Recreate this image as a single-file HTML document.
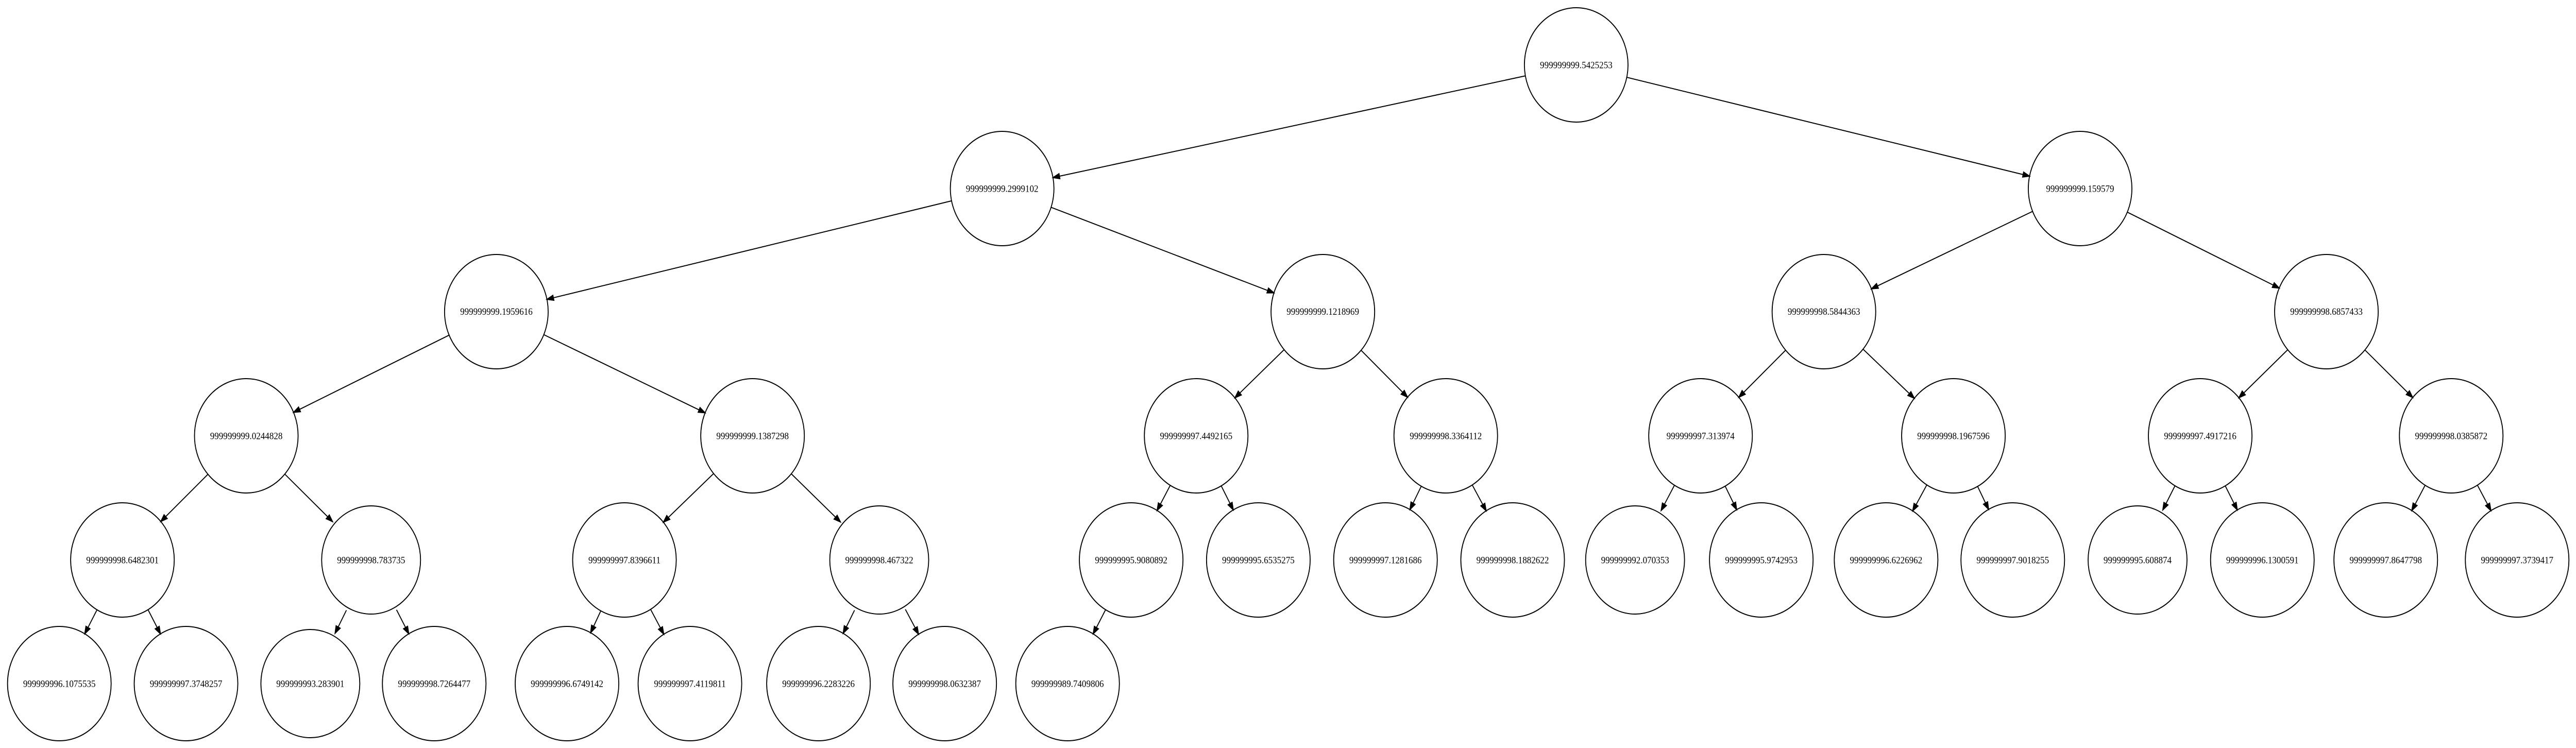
<!DOCTYPE html>
<html><head><meta charset="utf-8"><style>
html,body{margin:0;padding:0;background:#fff;overflow:hidden;width:100%;height:100%;}
svg{display:block;position:fixed;left:0;top:0;width:100vw;height:100vh;}
text{font-family:"Liberation Serif",serif;font-size:18.67px;text-anchor:middle;dominant-baseline:central;fill:#000;}
ellipse{fill:none;stroke:#000;stroke-width:2;}
</style></head><body>
<svg id="s" viewBox="0 0 5470 1452" preserveAspectRatio="none" xmlns="http://www.w3.org/2000/svg">
<g id="edges"></g>
<g id="nodes">
<ellipse cx="3347" cy="126" rx="110" ry="111"/><text x="3347" y="126">999999999.5425253</text>
<ellipse cx="2128" cy="366" rx="110" ry="111"/><text x="2128" y="366">999999999.2999102</text>
<ellipse cx="4417" cy="366" rx="110" ry="111"/><text x="4417" y="366">999999999.159579</text>
<ellipse cx="1054" cy="605" rx="110" ry="111"/><text x="1054" y="605">999999999.1959616</text>
<ellipse cx="2809" cy="605" rx="110" ry="111"/><text x="2809" y="605">999999999.1218969</text>
<ellipse cx="3873" cy="605" rx="110" ry="111"/><text x="3873" y="605">999999998.5844363</text>
<ellipse cx="4940" cy="605" rx="110" ry="111"/><text x="4940" y="605">999999998.6857433</text>
<ellipse cx="523" cy="846" rx="110" ry="111"/><text x="523" y="846">999999999.0244828</text>
<ellipse cx="1598" cy="846" rx="110" ry="111"/><text x="1598" y="846">999999999.1387298</text>
<ellipse cx="2540" cy="846" rx="110" ry="111"/><text x="2540" y="846">999999997.4492165</text>
<ellipse cx="3070" cy="846" rx="110" ry="111"/><text x="3070" y="846">999999998.3364112</text>
<ellipse cx="3611" cy="846" rx="110" ry="111"/><text x="3611" y="846">999999997.313974</text>
<ellipse cx="4148" cy="846" rx="110" ry="111"/><text x="4148" y="846">999999998.1967596</text>
<ellipse cx="4672" cy="846" rx="110" ry="111"/><text x="4672" y="846">999999997.4917216</text>
<ellipse cx="5205" cy="846" rx="110" ry="111"/><text x="5205" y="846">999999998.0385872</text>
<ellipse cx="260" cy="1087" rx="110" ry="111"/><text x="260" y="1087">999999998.6482301</text>
<ellipse cx="788" cy="1087" rx="105" ry="105"/><text x="788" y="1087">999999998.783735</text>
<ellipse cx="1326" cy="1087" rx="110" ry="111"/><text x="1326" y="1087">999999997.8396611</text>
<ellipse cx="1867" cy="1087" rx="105" ry="105"/><text x="1867" y="1087">999999998.467322</text>
<ellipse cx="2402" cy="1087" rx="110" ry="111"/><text x="2402" y="1087">999999995.9080892</text>
<ellipse cx="2672" cy="1087" rx="110" ry="111"/><text x="2672" y="1087">999999995.6535275</text>
<ellipse cx="2942" cy="1087" rx="110" ry="111"/><text x="2942" y="1087">999999997.1281686</text>
<ellipse cx="3212" cy="1087" rx="110" ry="111"/><text x="3212" y="1087">999999998.1882622</text>
<ellipse cx="3472" cy="1087" rx="105" ry="105"/><text x="3472" y="1087">999999992.070353</text>
<ellipse cx="3740" cy="1087" rx="110" ry="111"/><text x="3740" y="1087">999999995.9742953</text>
<ellipse cx="4005" cy="1087" rx="110" ry="111"/><text x="4005" y="1087">999999996.6226962</text>
<ellipse cx="4274" cy="1087" rx="110" ry="111"/><text x="4274" y="1087">999999997.9018255</text>
<ellipse cx="4539" cy="1087" rx="105" ry="105"/><text x="4539" y="1087">999999995.608874</text>
<ellipse cx="4804" cy="1087" rx="110" ry="111"/><text x="4804" y="1087">999999996.1300591</text>
<ellipse cx="5066" cy="1087" rx="110" ry="111"/><text x="5066" y="1087">999999997.8647798</text>
<ellipse cx="5345" cy="1087" rx="110" ry="111"/><text x="5345" y="1087">999999997.3739417</text>
<ellipse cx="126" cy="1327" rx="110" ry="111"/><text x="126" y="1327">999999996.1075535</text>
<ellipse cx="395" cy="1327" rx="110" ry="111"/><text x="395" y="1327">999999997.3748257</text>
<ellipse cx="659" cy="1327" rx="105" ry="105"/><text x="659" y="1327">999999993.283901</text>
<ellipse cx="922" cy="1327" rx="110" ry="111"/><text x="922" y="1327">999999998.7264477</text>
<ellipse cx="1204" cy="1327" rx="110" ry="111"/><text x="1204" y="1327">999999996.6749142</text>
<ellipse cx="1465" cy="1327" rx="110" ry="111"/><text x="1465" y="1327">999999997.4119811</text>
<ellipse cx="1738" cy="1327" rx="110" ry="111"/><text x="1738" y="1327">999999996.2283226</text>
<ellipse cx="2006" cy="1327" rx="110" ry="111"/><text x="2006" y="1327">999999998.0632387</text>
<ellipse cx="2267" cy="1327" rx="110" ry="111"/><text x="2267" y="1327">999999989.7409806</text>
</g>
</svg>
<script>
(function(){
var E=[[3347,126,2128,366],[3347,126,4417,366],
[2128,366,1054,605],[2128,366,2809,605],[4417,366,3873,605],[4417,366,4940,605],
[1054,605,523,846],[1054,605,1598,846],[2809,605,2540,846],[2809,605,3070,846],
[3873,605,3611,846],[3873,605,4148,846],[4940,605,4672,846],[4940,605,5205,846],
[523,846,260,1087],[523,846,788,1087],[1598,846,1326,1087],[1598,846,1867,1087],
[2540,846,2402,1087],[2540,846,2672,1087],[3070,846,2942,1087],[3070,846,3212,1087],
[3611,846,3472,1087],[3611,846,3740,1087],[4148,846,4005,1087],[4148,846,4274,1087],
[4672,846,4539,1087],[4672,846,4804,1087],[5205,846,5066,1087],[5205,846,5345,1087],
[260,1087,126,1327],[260,1087,395,1327],[788,1087,659,1327],[788,1087,922,1327],
[1326,1087,1204,1327],[1326,1087,1465,1327],[1867,1087,1738,1327],[1867,1087,2006,1327],
[2402,1087,2267,1327]];
var g=document.getElementById('edges'),h='';
function pt(cx,cy,dx,dy){var t=1/Math.sqrt(dx*dx/(110*110)+dy*dy/(111*111));return [cx+dx*t,cy+dy*t];}
E.forEach(function(e){
var dx=e[2]-e[0],dy=e[3]-e[1],L=Math.sqrt(dx*dx+dy*dy),ux=dx/L,uy=dy/L;
var a=pt(e[0],e[1],dx,dy),b=pt(e[2],e[3],-dx,-dy);
var bx=b[0]-ux*14,by=b[1]-uy*14,px=-uy*5,py=ux*5;
h+='<line x1="'+a[0]+'" y1="'+a[1]+'" x2="'+bx+'" y2="'+by+'" stroke="#000" stroke-width="2"/>';
h+='<polygon points="'+b[0]+','+b[1]+' '+(bx+px)+','+(by+py)+' '+(bx-px)+','+(by-py)+'" fill="#000" stroke="#000" stroke-width="2"/>';
});
g.innerHTML=h;
})();
</script>
</body></html>
